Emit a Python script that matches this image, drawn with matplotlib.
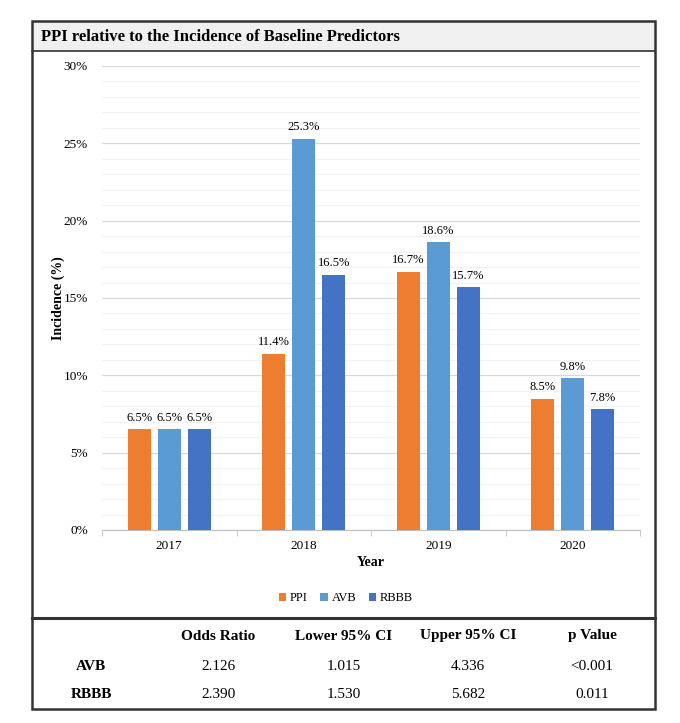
import numpy as np
import matplotlib
matplotlib.use('Agg')
import matplotlib.pyplot as plt
from matplotlib.patches import Rectangle, Patch
from matplotlib.lines import Line2D
from matplotlib.ticker import MultipleLocator, FuncFormatter, FixedLocator

plt.rcParams['font.family'] = ['Liberation Serif', 'DejaVu Serif']

# data
years = ['2017', '2018', '2019', '2020']
series = ['PPI', 'AVB', 'RBBB']
ppi = [6.5, 11.4, 16.7, 8.5]
avb = [6.5, 25.3, 18.6, 9.8]
rbbb = [6.5, 16.5, 15.7, 7.8]
colors = ['#ED7D31', '#5B9BD5', '#4472C4']

table_cols = ['Odds Ratio', 'Lower 95% CI', 'Upper 95% CI', 'p Value']
table_rows = ['AVB', 'RBBB']
table_vals = [['2.126', '1.015', '4.336', '<0.001'],
              ['2.390', '1.530', '5.682', '0.011']]

W, H = 680, 723
fig = plt.figure(figsize=(W / 100, H / 100), dpi=100)


def fx(x):
    return x / W


def fy(y):
    return 1 - y / H


# frame, title bar, separators
fig.patches.append(Rectangle((fx(32), fy(51)), fx(655) - fx(32), fy(21) - fy(51),
                             transform=fig.transFigure, facecolor='#f0f0f0',
                             edgecolor='none', zorder=0))
fig.patches.append(Rectangle((fx(32), fy(709)), fx(655) - fx(32), fy(21) - fy(709),
                             transform=fig.transFigure, facecolor='none',
                             edgecolor='#333333', linewidth=1.8, zorder=5))
fig.lines.append(Line2D([fx(32), fx(655)], [fy(51), fy(51)], transform=fig.transFigure,
                        color='#333333', linewidth=1.2))
fig.lines.append(Line2D([fx(32), fx(655)], [fy(617.5), fy(617.5)], transform=fig.transFigure,
                        color='#333333', linewidth=2.2))

fig.text(fx(41), fy(37), 'PPI relative to the Incidence of Baseline Predictors',
         fontsize=12, fontweight='bold', ha='left', va='center')

# chart
ax = fig.add_axes([fx(102), fy(530), fx(640) - fx(102), fy(66) - fy(530)])
x = np.arange(len(years))
bw = 0.171
step = 0.223
for i, (vals, c) in enumerate(zip([ppi, avb, rbbb], colors)):
    pos = x + (i - 1) * step
    bars = ax.bar(pos, vals, width=bw, color=c, zorder=3, label=series[i])
    for b, v in zip(bars, vals):
        ax.annotate('%.1f%%' % v, (b.get_x() + b.get_width() / 2, v),
                    xytext=(0, 4), textcoords='offset points',
                    ha='center', va='bottom', fontsize=9)

ax.set_xlim(-0.5, len(years) - 0.5)
ax.set_ylim(0, 30)
ax.yaxis.set_major_locator(MultipleLocator(5))
ax.yaxis.set_minor_locator(MultipleLocator(1))
ax.yaxis.set_major_formatter(FuncFormatter(lambda v, p: '%d%%' % v))
ax.grid(axis='y', which='minor', color='#f2f2f2', linewidth=0.9, zorder=0)
ax.grid(axis='y', which='major', color='#d9d9d9', linewidth=0.9, zorder=1)
ax.set_xticks(x)
ax.set_xticklabels(years)
ax.xaxis.set_minor_locator(FixedLocator(np.arange(len(years) + 1) - 0.5))
ax.tick_params(axis='x', which='major', length=0, pad=7, labelsize=9.5)
ax.tick_params(axis='x', which='minor', length=4, color='#bfbfbf')
ax.tick_params(axis='y', which='both', length=0, pad=10, labelsize=9.5)
for s in ['top', 'right', 'left']:
    ax.spines[s].set_visible(False)
ax.spines['bottom'].set_color('#bfbfbf')

fig.text(fx(371), fy(563), 'Year', fontsize=10, fontweight='bold', ha='center', va='center')
fig.text(fx(58), fy(298), 'Incidence (%)', fontsize=10, fontweight='bold',
         ha='center', va='center', rotation=90)

handles = [Patch(facecolor=c, label=s) for c, s in zip(colors, series)]
fig.legend(handles=handles, loc='center', bbox_to_anchor=(fx(346), fy(598)), ncol=3,
           frameon=False, fontsize=9, handlelength=0.6, handleheight=0.6,
           handletextpad=0.3, columnspacing=1.0)

# odds ratio table
col_x = [218, 344, 468, 592]
row_y = [666, 694]
for cx, name in zip(col_x, table_cols):
    fig.text(fx(cx), fy(636), name, fontsize=11, fontweight='bold', ha='center', va='center')
for ry, rname, vals in zip(row_y, table_rows, table_vals):
    fig.text(fx(91), fy(ry), rname, fontsize=11, fontweight='bold', ha='center', va='center')
    for cx, v in zip(col_x, vals):
        fig.text(fx(cx), fy(ry), v, fontsize=11, ha='center', va='center')

fig.savefig('out.png', dpi=100)
